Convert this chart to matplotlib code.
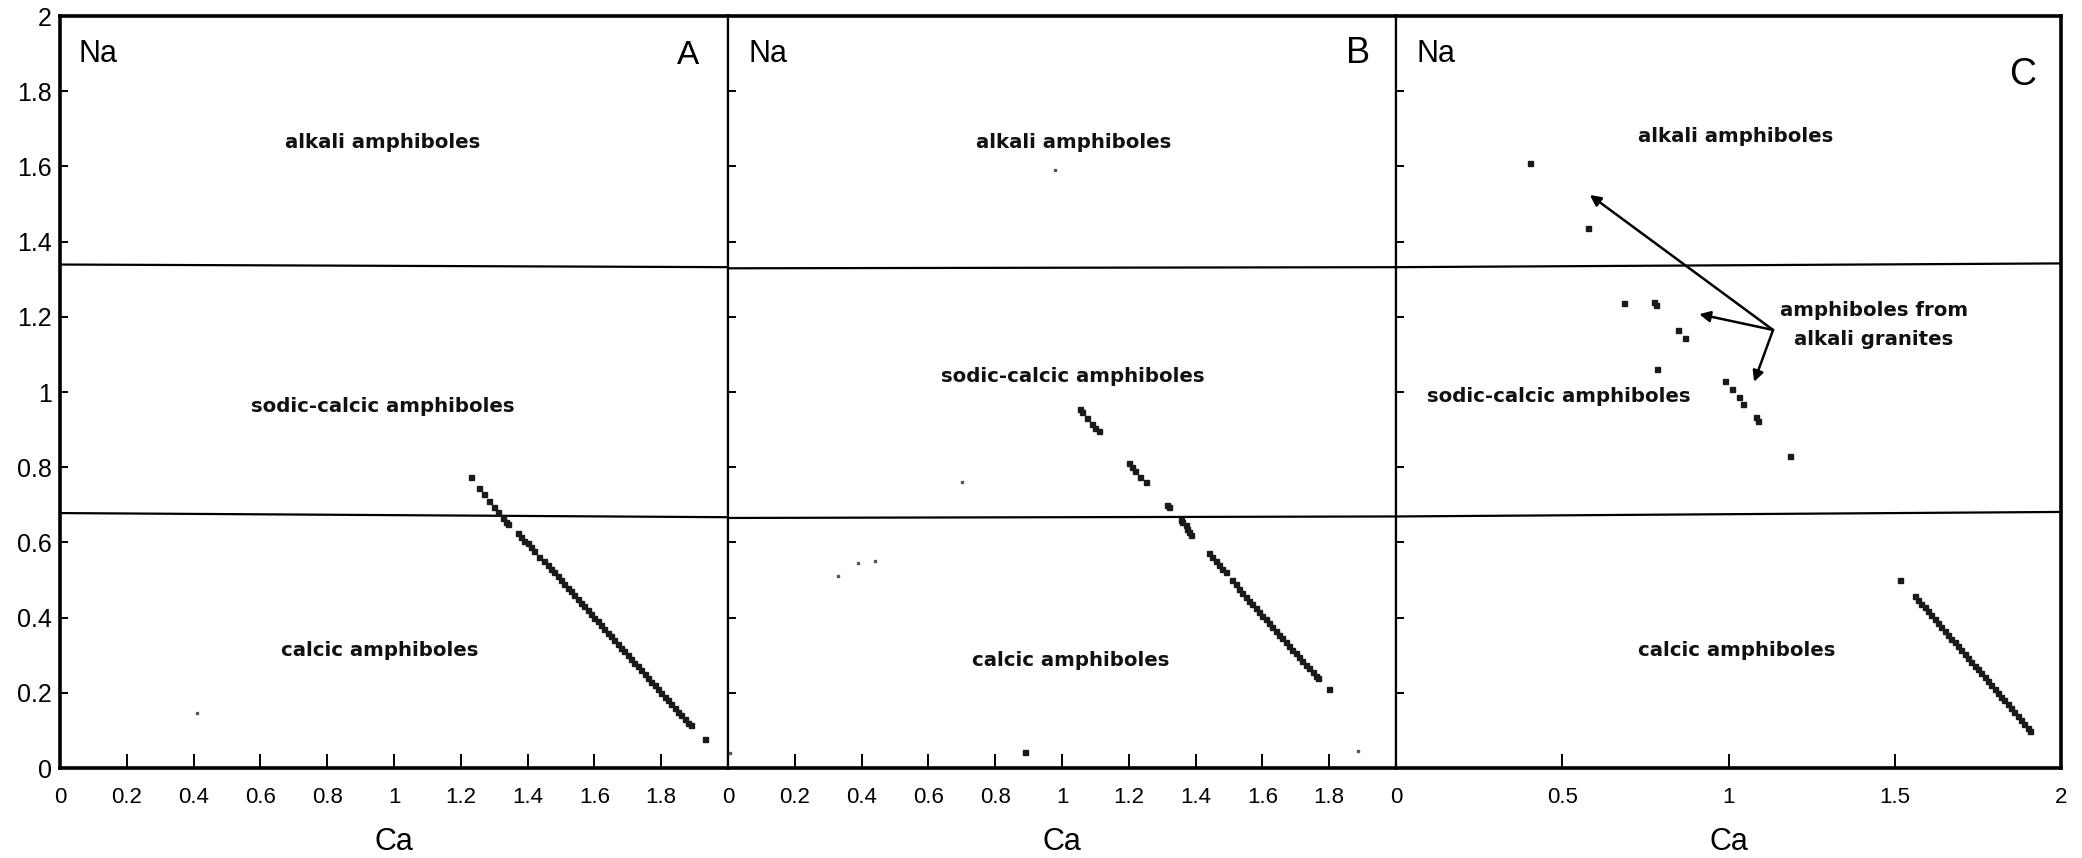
import matplotlib
matplotlib.use("Agg")
import matplotlib.pyplot as plt

# ---------------- data ----------------
# Panel A
a_ca = [1.23, 1.255, 1.27, 1.285, 1.30, 1.31, 1.325, 1.335, 1.34,
        1.37, 1.38, 1.39, 1.40, 1.41, 1.42, 1.435, 1.45, 1.46, 1.47,
        1.48, 1.49, 1.50, 1.51, 1.52, 1.53, 1.54, 1.55, 1.56, 1.57,
        1.58, 1.59, 1.60, 1.61, 1.62, 1.63, 1.64, 1.65, 1.66, 1.67,
        1.68, 1.69, 1.70, 1.71, 1.72, 1.73, 1.74, 1.75, 1.76, 1.77,
        1.78, 1.79, 1.80, 1.81, 1.82, 1.83, 1.84, 1.85, 1.86, 1.87,
        1.88, 1.89, 1.93]
a_na = [0.775, 0.745, 0.728, 0.71, 0.695, 0.68, 0.665, 0.655, 0.648,
        0.625, 0.615, 0.605, 0.598, 0.588, 0.578, 0.562, 0.55, 0.54, 0.528,
        0.52, 0.51, 0.50, 0.49, 0.48, 0.47, 0.46, 0.45, 0.44, 0.43,
        0.42, 0.41, 0.40, 0.39, 0.38, 0.37, 0.36, 0.35, 0.34, 0.33,
        0.32, 0.31, 0.30, 0.29, 0.28, 0.27, 0.26, 0.25, 0.24, 0.23,
        0.22, 0.21, 0.20, 0.19, 0.18, 0.17, 0.16, 0.15, 0.14, 0.13,
        0.12, 0.115, 0.076]
a_speck_ca = [0.41]
a_speck_na = [0.147]

# Panel B
b_ca = [1.055, 1.06, 1.075, 1.09, 1.10, 1.11,
        1.20, 1.21, 1.22, 1.235, 1.25,
        1.315, 1.32,
        1.355, 1.36, 1.37, 1.375, 1.38, 1.385,
        1.44, 1.45, 1.46, 1.47, 1.48, 1.49,
        1.51, 1.52, 1.53, 1.54, 1.55, 1.56, 1.57, 1.58, 1.59, 1.60,
        1.61, 1.62, 1.63, 1.64, 1.65, 1.66, 1.67, 1.68, 1.69, 1.70,
        1.71, 1.72, 1.73, 1.74, 1.75, 1.76, 1.765,
        1.80, 0.89]
b_na = [0.955, 0.948, 0.93, 0.915, 0.905, 0.897,
        0.81, 0.80, 0.79, 0.775, 0.76,
        0.70, 0.695,
        0.66, 0.655, 0.645, 0.635, 0.628, 0.62,
        0.572, 0.56, 0.55, 0.54, 0.53, 0.52,
        0.50, 0.49, 0.475, 0.465, 0.455, 0.445, 0.435, 0.425, 0.415, 0.405,
        0.395, 0.385, 0.375, 0.365, 0.355, 0.345, 0.335, 0.325, 0.315, 0.305,
        0.295, 0.285, 0.275, 0.265, 0.255, 0.245, 0.24,
        0.21, 0.042]
b_speck_ca = [0.33, 0.39, 0.44, 0.70, 0.98, 1.885, 0.005]
b_speck_na = [0.51, 0.545, 0.55, 0.76, 1.59, 0.045, 0.04]

# Panel C
c_ca = [0.402, 0.576, 0.685, 0.775, 0.782, 0.847, 0.870, 0.785,
        0.988, 1.012, 1.032, 1.043, 1.084, 1.089, 1.185, 1.516,
        1.56, 1.57, 1.58, 1.59, 1.60, 1.61, 1.62, 1.63, 1.64, 1.65,
        1.66, 1.67, 1.68, 1.69, 1.70, 1.71, 1.72, 1.73, 1.74, 1.75,
        1.76, 1.77, 1.78, 1.79, 1.80, 1.81, 1.82, 1.83, 1.84, 1.85,
        1.86, 1.87, 1.88, 1.89, 1.90, 1.908]
c_na = [1.608, 1.436, 1.237, 1.239, 1.232, 1.166, 1.143, 1.062,
        1.029, 1.009, 0.987, 0.969, 0.934, 0.924, 0.829, 0.501,
        0.457, 0.447, 0.437, 0.427, 0.417, 0.406, 0.396, 0.386, 0.375, 0.365,
        0.355, 0.344, 0.334, 0.324, 0.313, 0.303, 0.293, 0.283, 0.272, 0.262,
        0.252, 0.241, 0.231, 0.221, 0.210, 0.200, 0.190, 0.180, 0.169, 0.159,
        0.149, 0.138, 0.128, 0.118, 0.107, 0.099]

# boundary lines (left end, right end) per panel
upper_bounds = [(1.339, 1.332), (1.329, 1.332), (1.332, 1.342)]
lower_bounds = [(0.678, 0.667), (0.665, 0.669), (0.669, 0.681)]

y_ticks = [0, 0.2, 0.4, 0.6, 0.8, 1.0, 1.2, 1.4, 1.6, 1.8, 2.0]
y_tick_labels = ["0", "0.2", "0.4", "0.6", "0.8", "1", "1.2", "1.4", "1.6", "1.8", "2"]
x_ticks_ab = [0, 0.2, 0.4, 0.6, 0.8, 1.0, 1.2, 1.4, 1.6, 1.8]
x_tick_labels_ab = ["0", "0.2", "0.4", "0.6", "0.8", "1", "1.2", "1.4", "1.6", "1.8"]
x_ticks_c = [0, 0.5, 1.0, 1.5, 2.0]
x_tick_labels_c = ["0", "0.5", "1", "1.5", "2"]

panel_letters = ["A", "B", "C"]
region_labels = ["alkali amphiboles", "sodic-calcic amphiboles", "calcic amphiboles"]
region_pos = [
    [(0.966, 1.663), (0.966, 0.961), (0.958, 0.312)],
    [(1.036, 1.663), (1.033, 1.041), (1.027, 0.285)],
    [(1.022, 1.679), (0.489, 0.989), (1.026, 0.312)],
]
letter_pos = [(1.879, 1.896), (1.886, 1.90), (1.886, 1.843)]
letter_sizes = [24, 26, 27]

arrow_origin = (1.134, 1.165)
arrow_targets = [(0.583, 1.524), (0.912, 1.207), (1.077, 1.027)]
granite_label = "amphiboles from\nalkali granites"

# ---------------- drawing ----------------
W, H = 2082, 858
fig = plt.figure(figsize=(W / 100, H / 100), dpi=100)
fig.patch.set_facecolor("white")

sans = ["Liberation Sans", "DejaVu Sans"]
boldfam = ["DejaVu Sans"]

left_px = [60, 728, 1396]
width_px = [668, 668, 665]
bottom = 1 - 768 / H
height = (768 - 16) / H

pts_ca = [a_ca, b_ca, c_ca]
pts_na = [a_na, b_na, c_na]
speck_ca = [a_speck_ca, b_speck_ca, []]
speck_na = [a_speck_na, b_speck_na, []]

for i in range(3):
    ax = fig.add_axes([left_px[i] / W, bottom, width_px[i] / W, height])
    ax.set_xlim(0, 2)
    ax.set_ylim(0, 2)
    ax.set_facecolor("white")

    for s in ax.spines.values():
        s.set_color("black")
    ax.spines["top"].set_linewidth(2.6)
    ax.spines["bottom"].set_linewidth(2.6)
    ax.spines["left"].set_linewidth(2.6 if i == 0 else 1.6)
    ax.spines["right"].set_linewidth(2.6 if i == 2 else 1.6)

    ax.plot([0, 2], list(upper_bounds[i]), color="black", lw=1.6, zorder=2)
    ax.plot([0, 2], list(lower_bounds[i]), color="black", lw=1.6, zorder=2)

    ax.plot(pts_ca[i], pts_na[i], ls="none", marker="s", ms=3.6,
            color="#1a1a1a", zorder=3)
    if speck_ca[i]:
        ax.plot(speck_ca[i], speck_na[i], ls="none", marker="s", ms=1.5,
                color="#555555", zorder=3)

    ax.set_yticks(y_ticks)
    ax.tick_params(axis="y", direction="in", length=6, width=1.4, left=True,
                   right=False, pad=6)
    ax.tick_params(axis="x", direction="in", length=10, width=1.4, top=False,
                   pad=14)
    if i == 0:
        ax.set_yticklabels(y_tick_labels, fontsize=18, family=sans)
    else:
        ax.set_yticklabels([])
    if i < 2:
        ax.set_xticks(x_ticks_ab)
        ax.set_xticklabels(x_tick_labels_ab, fontsize=16, family=sans)
    else:
        ax.set_xticks(x_ticks_c)
        ax.set_xticklabels(x_tick_labels_c, fontsize=16, family=sans)

    ax.set_xlabel("Ca", fontsize=22, family=sans, labelpad=13)

    ax.text(0.055 if i == 0 else 0.062, 1.899, "Na", fontsize=22,
            family=sans, ha="left", va="center")
    lx, ly = letter_pos[i]
    ax.text(lx, ly, panel_letters[i], fontsize=letter_sizes[i],
            family=sans, ha="center", va="center")

    for lab, (tx, ty) in zip(region_labels, region_pos[i]):
        ax.text(tx, ty, lab, fontsize=14.2, family=boldfam, weight="bold",
                ha="center", va="center", color="#111111")

    if i == 2:
        for tx, ty in arrow_targets:
            ax.annotate("", xy=(tx, ty), xytext=arrow_origin,
                        arrowprops=dict(arrowstyle="-|>", color="black",
                                        lw=1.8, mutation_scale=16,
                                        shrinkA=0, shrinkB=0))
        ax.text(1.437, 1.178, granite_label, fontsize=14.2, family=boldfam,
                weight="bold", ha="center", va="center", color="#111111",
                linespacing=1.7)

fig.savefig("out.png", dpi=100, facecolor="white")
